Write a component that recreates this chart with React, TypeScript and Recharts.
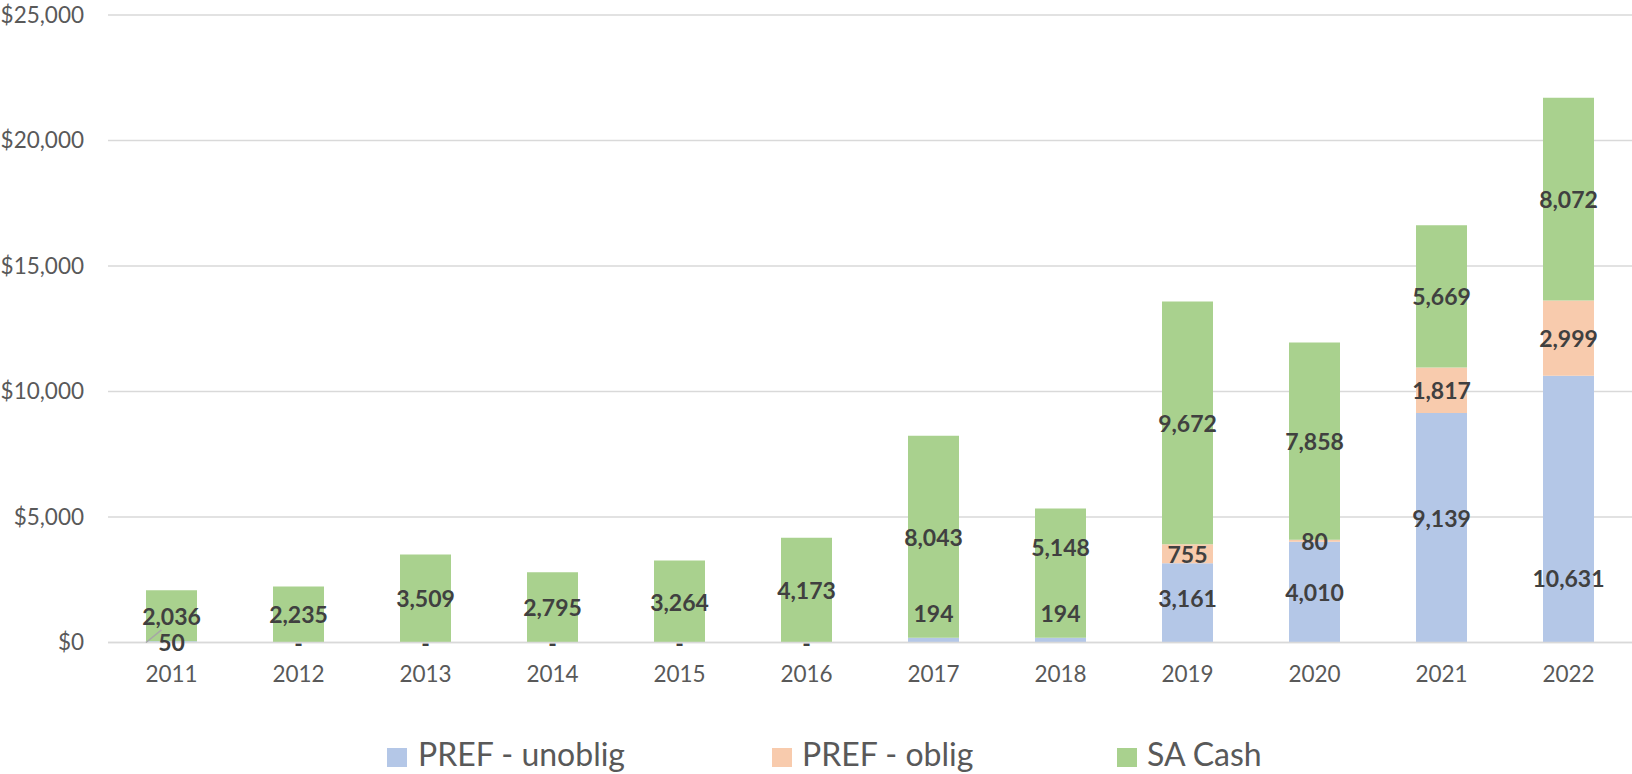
import { BarChart, Bar, Line, XAxis, YAxis, CartesianGrid, LabelList } from "recharts";

const years = ["2011", "2012", "2013", "2014", "2015", "2016", "2017", "2018", "2019", "2020", "2021", "2022"];
const prefUnoblig = [50, 0, 0, 0, 0, 0, 194, 194, 3161, 4010, 9139, 10631];
const prefOblig = [0, 0, 0, 0, 0, 0, 0, 0, 755, 80, 1817, 2999];
const saCash = [2036, 2235, 3509, 2795, 3264, 4173, 8043, 5148, 9672, 7858, 5669, 8072];
const yTicks = [0, 5000, 10000, 15000, 20000, 25000];

const data = years.map((year, i) => ({
  year,
  unoblig: prefUnoblig[i],
  oblig: prefOblig[i],
  cash: saCash[i],
  // zero-height bars get no label from recharts, Excel shows "-" there
  dash: prefUnoblig[i] === 0 ? 0 : null,
}));

const BLUE = "#b4c7e7";
const ORANGE = "#f8cbad";
const GREEN = "#a9d18e";
const FONT = "Lato, 'Open Sans', sans-serif";
const LABEL_COLOR = "#404040";

// Excel had a few labels dragged by hand
const labelNudge: Record<string, number> = {
  "unoblig-2017": -27,
  "unoblig-2018": -27,
  "unoblig-2019": -5,
  "unoblig-2021": -10,
  "unoblig-2022": 69,
  "cash-2018": -26,
};

function makeLabel(key: "unoblig" | "oblig" | "cash") {
  // recharts drops zero-height rects, so label indexes run over the non-zero rows only
  const rows = data.filter((d) => d[key] !== 0);
  return (props: any) => {
    const { x, y, width, height, index } = props;
    const row = rows[index];
    if (!row) return null;
    const v = row[key];
    const year = row.year;
    const cx = Number(x) + Number(width) / 2;
    const cy = Number(y) + Number(height) / 2 + (labelNudge[`${key}-${year}`] ?? 0);
    return (
      <g>
        {key === "unoblig" && year === "2011" && (
          <line
            x1={Number(x)}
            y1={Number(y) + Number(height)}
            x2={cx - 10}
            y2={cy - 12}
            stroke="#a6a6a6"
            strokeWidth={1.5}
          />
        )}
        <text
          x={cx}
          y={cy}
          textAnchor="middle"
          dominantBaseline="central"
          fontFamily={FONT}
          fontWeight={700}
          fontSize={23}
          fill={LABEL_COLOR}
        >
          {v.toLocaleString("en-US")}
        </text>
      </g>
    );
  };
}

function DashDot(props: any) {
  const { cx, cy, value } = props;
  if (value == null || cx == null || cy == null) return null;
  return (
    <text
      key={`dash-${props.index}`}
      x={cx}
      y={cy}
      textAnchor="middle"
      dominantBaseline="central"
      fontFamily={FONT}
      fontWeight={700}
      fontSize={23}
      fill={LABEL_COLOR}
    >
      -
    </text>
  );
}

const legendItems = [
  { label: "PREF - unoblig", color: BLUE, sq: 387, tx: 418 },
  { label: "PREF - oblig", color: ORANGE, sq: 772, tx: 802 },
  { label: "SA Cash", color: GREEN, sq: 1117, tx: 1147 },
];

const axisTick = { fontSize: 22.5, fill: "#595959", fontFamily: FONT };

export default function App() {
  return (
    <div
      style={{
        position: "absolute",
        left: 0,
        top: 0,
        width: 1632,
        height: 774,
        background: "#fff",
        fontFamily: FONT,
      }}
    >
      <BarChart
        width={1632}
        height={774}
        data={data}
        margin={{ top: 15, right: 0, bottom: 0, left: 0 }}
      >
        <CartesianGrid vertical={false} stroke="#d9d9d9" strokeWidth={1.5} />
        <XAxis
          dataKey="year"
          height={131.5}
          tickLine={false}
          axisLine={{ stroke: "#d9d9d9", strokeWidth: 1.5 }}
          tickMargin={18}
          tick={axisTick}
        />
        <YAxis
          width={108}
          domain={[0, 25000]}
          ticks={yTicks}
          tickLine={false}
          axisLine={false}
          tickMargin={18}
          tick={axisTick}
          tickFormatter={(v: number) => `$${v.toLocaleString("en-US")}`}
        />
        <Bar dataKey="unoblig" stackId="a" fill={BLUE} barSize={51} isAnimationActive={false}>
          <LabelList dataKey="unoblig" content={makeLabel("unoblig")} />
        </Bar>
        <Bar dataKey="oblig" stackId="a" fill={ORANGE} barSize={51} isAnimationActive={false}>
          <LabelList dataKey="oblig" content={makeLabel("oblig")} />
        </Bar>
        <Bar dataKey="cash" stackId="a" fill={GREEN} barSize={51} isAnimationActive={false}>
          <LabelList dataKey="cash" content={makeLabel("cash")} />
        </Bar>
        <Line
          dataKey="dash"
          stroke="none"
          dot={DashDot}
          activeDot={false}
          connectNulls={false}
          legendType="none"
          isAnimationActive={false}
        />
      </BarChart>

      {/* Legend */}
      {legendItems.map((it) => (
        <div key={it.label}>
          <span
            style={{
              position: "absolute",
              left: it.sq,
              top: 748,
              width: 20,
              height: 19,
              background: it.color,
            }}
          />
          <span
            style={{
              position: "absolute",
              left: it.tx,
              top: 738,
              fontSize: 32,
              lineHeight: "32px",
              color: "#595959",
              whiteSpace: "nowrap",
            }}
          >
            {it.label}
          </span>
        </div>
      ))}
    </div>
  );
}
